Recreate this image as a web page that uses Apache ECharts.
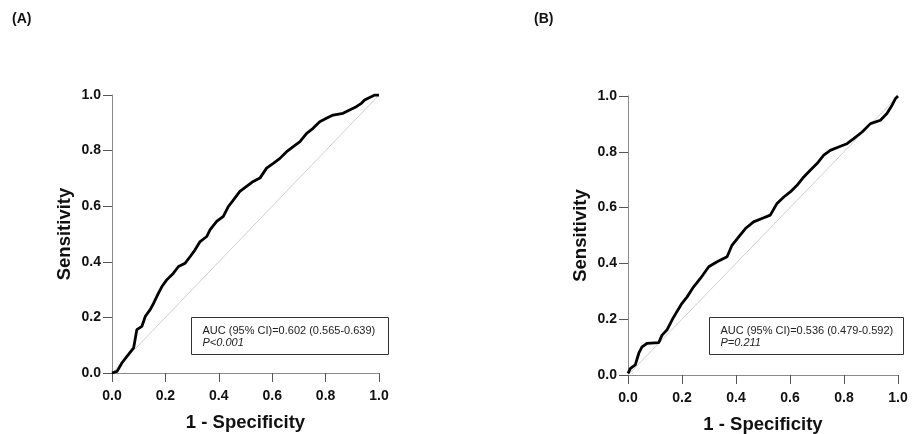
<!DOCTYPE html>
<html>
<head>
<meta charset="utf-8">
<script src="https://cdn.jsdelivr.net/npm/echarts@6/dist/echarts.min.js"></script>
<style>html,body{margin:0;padding:0;background:#fff}#c{width:912px;height:434px}</style>
</head>
<body>
<div id="c"></div>
<script>
// Tick labels
const tickValues = [0, 0.2, 0.4, 0.6, 0.8, 1.0];
// Panel A ROC curve (1 - specificity, sensitivity)
const rocA_fpr = [0,0.019,0.037,0.056,0.081,0.093,0.112,0.125,0.143,0.156,0.174,0.187,0.205,0.230,0.249,0.274,0.293,0.311,0.330,0.355,0.367,0.392,0.417,0.436,0.455,0.479,0.504,0.529,0.554,0.579,0.604,0.629,0.654,0.679,0.704,0.729,0.753,0.778,0.803,0.828,0.865,0.890,0.915,0.934,0.946,0.971,0.984,1.0];
const rocA_tpr = [0,0.006,0.036,0.060,0.090,0.156,0.168,0.204,0.228,0.251,0.287,0.311,0.335,0.359,0.383,0.395,0.419,0.443,0.473,0.491,0.515,0.545,0.563,0.599,0.623,0.653,0.671,0.689,0.701,0.737,0.754,0.772,0.796,0.814,0.832,0.862,0.880,0.904,0.916,0.928,0.934,0.946,0.958,0.970,0.982,0.994,1.0,1.0];
// Panel B ROC curve
const rocB_fpr = [0,0.009,0.027,0.040,0.052,0.070,0.114,0.126,0.144,0.163,0.181,0.200,0.219,0.243,0.268,0.299,0.330,0.367,0.385,0.410,0.435,0.465,0.496,0.527,0.552,0.577,0.601,0.626,0.651,0.675,0.700,0.725,0.749,0.780,0.811,0.836,0.867,0.898,0.935,0.959,0.978,0.990,1.0];
const rocB_tpr = [0.006,0.024,0.036,0.078,0.101,0.113,0.116,0.143,0.161,0.197,0.227,0.257,0.280,0.316,0.346,0.388,0.406,0.424,0.465,0.495,0.525,0.549,0.561,0.573,0.615,0.638,0.656,0.680,0.710,0.734,0.758,0.788,0.805,0.817,0.829,0.847,0.871,0.901,0.913,0.937,0.967,0.990,1.0];
const diagonal = [[0,0],[1,1]];
const panelLabels = ['(A)', '(B)'];
const aucText = ['AUC (95% CI)=0.602 (0.565-0.639)', 'AUC (95% CI)=0.536 (0.479-0.592)'];
const pText = ['P<0.001', 'P=0.211'];
const xTitle = '1 - Specificity';
const yTitle = 'Sensitivity';

const FONT = '"Liberation Sans", Arial, Helvetica, sans-serif';
const zip = (a, b) => a.map((v, i) => [v, b[i]]);

function xAx(gi) {
  return {
    type: 'value', gridIndex: gi, min: 0, max: 1, interval: 0.2,
    name: xTitle, nameLocation: 'middle', nameGap: 40,
    nameTextStyle: {fontFamily: FONT, fontWeight: 'bold', fontSize: 18.5, color: '#111'},
    axisLine: {show: true, lineStyle: {color: '#8a8a8a', width: 1}},
    axisTick: {show: true, length: 9, lineStyle: {color: '#555', width: 1}},
    axisLabel: {margin: 16, fontFamily: FONT, fontWeight: 'bold', fontSize: 14, color: '#111', formatter: v => v.toFixed(1)},
    splitLine: {show: false}
  };
}
function yAx(gi) {
  return {
    type: 'value', gridIndex: gi, min: 0, max: 1, interval: 0.2,
    name: yTitle, nameLocation: 'middle', nameGap: 38, nameRotate: 90,
    nameTextStyle: {fontFamily: FONT, fontWeight: 'bold', fontSize: 18.5, color: '#111'},
    axisLine: {show: true, lineStyle: {color: '#8a8a8a', width: 1}},
    axisTick: {show: true, length: 9, lineStyle: {color: '#555', width: 1}},
    axisLabel: {margin: 11, fontFamily: FONT, fontWeight: 'bold', fontSize: 14, color: '#111', formatter: v => v.toFixed(1)},
    splitLine: {show: false}
  };
}
function box(x, y, w, h, i) {
  return {
    type: 'group', left: x, top: y,
    children: [
      {type: 'rect', shape: {x: 0, y: 0, width: w, height: h}, style: {fill: '#fff', stroke: '#333', lineWidth: 1}},
      {type: 'text', x: 11, y: 13, style: {text: aucText[i], font: '11px ' + FONT, fill: '#222', verticalAlign: 'middle'}},
      {type: 'text', x: 11, y: 25, style: {text: pText[i], font: 'italic 11px ' + FONT, fill: '#222', verticalAlign: 'middle'}}
    ]
  };
}

const chart = echarts.init(document.getElementById('c'), null, {renderer: 'canvas'});
chart.setOption({
  animation: false,
  backgroundColor: '#fff',
  grid: [
    {left: 112, top: 95, width: 267, height: 278, containLabel: false, outerBoundsMode: 'none'},
    {left: 628, top: 96, width: 270, height: 279, containLabel: false, outerBoundsMode: 'none'}
  ],
  xAxis: [xAx(0), xAx(1)],
  yAxis: [yAx(0), yAx(1)],
  series: [
    {type: 'line', xAxisIndex: 0, yAxisIndex: 0, data: diagonal, symbol: 'none', lineStyle: {color: '#cfcfcf', width: 1}, z: 1},
    {type: 'line', xAxisIndex: 0, yAxisIndex: 0, data: zip(rocA_fpr, rocA_tpr), symbol: 'none', lineStyle: {color: '#000', width: 2.8}, z: 2},
    {type: 'line', xAxisIndex: 1, yAxisIndex: 1, data: diagonal, symbol: 'none', lineStyle: {color: '#cfcfcf', width: 1}, z: 1},
    {type: 'line', xAxisIndex: 1, yAxisIndex: 1, data: zip(rocB_fpr, rocB_tpr), symbol: 'none', lineStyle: {color: '#000', width: 2.8}, z: 2}
  ],
  graphic: [
    {type: 'text', left: 12, top: 12, style: {text: panelLabels[0], font: 'bold 14px ' + FONT, fill: '#111'}},
    {type: 'text', left: 534, top: 12, style: {text: panelLabels[1], font: 'bold 14px ' + FONT, fill: '#111'}},
    box(191, 317, 197, 37, 0),
    box(709, 317, 194, 37, 1)
  ]
});
</script>
</body>
</html>
